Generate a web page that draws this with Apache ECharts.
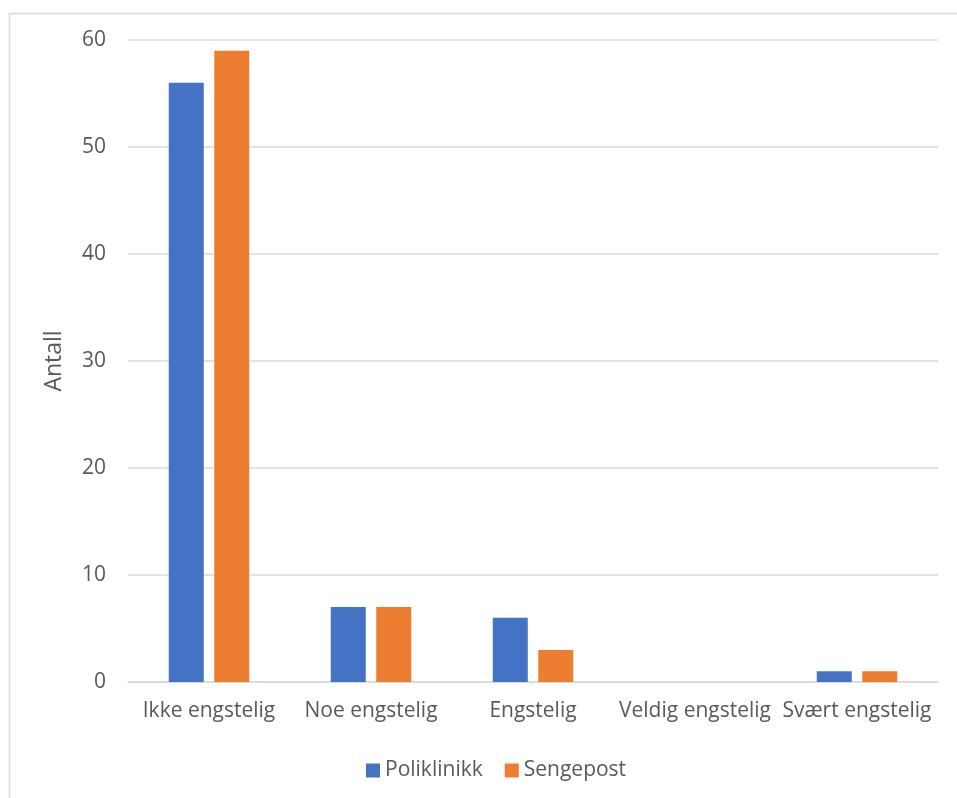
<!DOCTYPE html>
<html>
<head>
<meta charset="utf-8">
<script src="https://cdn.jsdelivr.net/npm/echarts@6/dist/echarts.min.js"></script>
<style>html,body{margin:0;padding:0;background:#fff;}#c{width:957px;height:798px;}</style>
</head>
<body>
<div id="c"></div>
<script>
const categories = ['Ikke engstelig', 'Noe engstelig', 'Engstelig', 'Veldig engstelig', 'Svært engstelig'];
const poliklinikk = [56, 7, 6, 0, 1];
const sengepost = [59, 7, 3, 0, 1];
const seriesNames = ['Poliklinikk', 'Sengepost'];
const yAxisName = 'Antall';

const FONT = '"Open Sans", "Liberation Sans", sans-serif';
const TXT = '#595959';
const chart = echarts.init(document.getElementById('c'));
chart.setOption({
  animation: false,
  backgroundColor: '#fff',
  graphic: [{
    type: 'rect', left: 7, top: 11, silent: true,
    shape: { x: 0, y: 0, width: 1000, height: 1000 },
    style: { fill: 'none', stroke: '#d9d9d9', lineWidth: 1.5 }
  }],
  grid: { left: 128, right: 19, top: 40, bottom: 116 },
  legend: {
    left: 361, top: 755,
    itemWidth: 14, itemHeight: 14, itemGap: 22,
    icon: 'rect',
    textStyle: { fontFamily: FONT, fontSize: 21, color: TXT },
    data: seriesNames
  },
  xAxis: {
    type: 'category', data: categories,
    axisLine: { lineStyle: { color: '#d9d9d9', width: 1.5 } },
    axisTick: { show: false },
    axisLabel: { fontFamily: FONT, fontSize: 21, color: TXT, margin: 19, interval: 0 }
  },
  yAxis: {
    type: 'value', min: 0, max: 60, interval: 10,
    name: yAxisName, nameLocation: 'middle', nameGap: 62, nameRotate: 90,
    nameTextStyle: { fontFamily: FONT, fontSize: 23, color: TXT },
    axisLine: { show: false }, axisTick: { show: false },
    splitLine: { lineStyle: { color: '#d9d9d9', width: 1.5 } },
    axisLabel: { fontFamily: FONT, fontSize: 21, color: TXT, margin: 22 }
  },
  series: [
    { name: seriesNames[0], type: 'bar', data: poliklinikk, barWidth: 35, barGap: '30%',
      itemStyle: { color: '#4472c4' } },
    { name: seriesNames[1], type: 'bar', data: sengepost, barWidth: 35,
      itemStyle: { color: '#ed7d31' } }
  ]
});
</script>
</body>
</html>
